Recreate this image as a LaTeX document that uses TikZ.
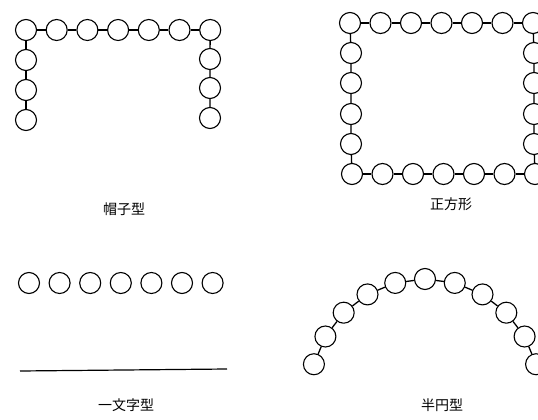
\documentclass[tikz,border=0pt]{standalone}
\usepackage{fontspec}
\newfontfamily\cjk{Noto Sans CJK JP}
\begin{document}
\begin{tikzpicture}[x=1pt,y=-1pt,
  bead/.style={circle,draw,line width=1.1pt,minimum size=21pt,inner sep=0pt},
  link/.style={line width=1.3pt},
  lab/.style={font=\cjk\fontsize{14}{14}\selectfont}]
\useasboundingbox (0,0) rectangle (538,420);
\clip (0,0) rectangle (538,420);
% ---- hat shape
\foreach \i in {0,...,6} \node[bead] (ht\i) at ({26+30.7*\i},30) {};
\foreach \i/\y in {1/60,2/90,3/120} \node[bead] (hl\i) at (26,\y) {};
\foreach \i/\y in {1/59,2/88,3/118} \node[bead] (hr\i) at (210,\y) {};
\foreach \i [evaluate=\i as \j using int(\i+1)] in {0,...,5} \draw[link] (ht\i) -- (ht\j);
\draw[link] (ht0) -- (hl1) -- (hl2) -- (hl3);
\draw[link] (ht6) -- (hr1) -- (hr2) -- (hr3);
\node[lab] (hatlab) at (124,209) {帽子型};
% ---- square
\foreach \i in {0,...,6} \node[bead] (st\i) at ({350+30.5*\i},23) {};
\foreach \i in {0,...,6} \node[bead] (sb\i) at ({352+30.5*\i},174) {};
\foreach \i/\y in {1/53,2/83,3/114,4/144} \node[bead] (sl\i) at (351,\y) {};
\foreach \i/\y in {1/53,2/83,3/114,4/144} \node[bead] (sr\i) at (534,\y) {};
\foreach \i [evaluate=\i as \j using int(\i+1)] in {0,...,5} {
  \draw[link] (st\i) -- (st\j);
  \draw[link] (sb\i) -- (sb\j);
}
\draw[link] (st0) -- (sl1) -- (sl2) -- (sl3) -- (sl4) -- (sb0);
\draw[link] (st6) -- (sr1) -- (sr2) -- (sr3) -- (sr4) -- (sb6);
\node[lab] (sqlab) at (451,204) {正方形};
% ---- straight line
\foreach \i in {0,...,6} \node[bead] (ln\i) at ({29+30.6*\i},283) {};
\coordinate (la) at (20,371);
\coordinate (lb) at (227,369);
\draw[line width=1.2pt] (la) -- (lb);
\node[lab] (lnlab) at (126,405) {一文字型};
% ---- semicircle
\foreach \i in {0,...,10} {
  \pgfmathsetmacro\a{165-15*\i}
  \node[bead] (sc\i) at ({425+115*cos(\a)},{394-115*sin(\a)}) {};
}
\foreach \i [evaluate=\i as \j using int(\i+1)] in {0,...,9} \draw[link] (sc\i) -- (sc\j);
\node[lab] (sclab) at (442,405) {半円型};
\end{tikzpicture}
\end{document}
